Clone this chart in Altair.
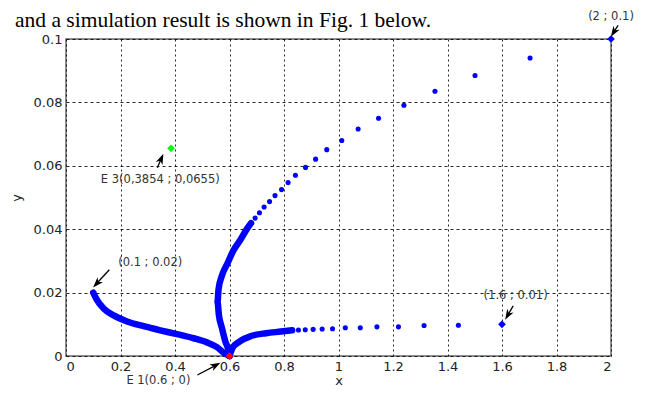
import math
import altair as alt
import pandas as pd

# ---------------- data ----------------
# trajectory starting at (2 ; 0.1): sparse dots, then dense (thick) part
t1_dots_x = [1.703, 1.501, 1.354, 1.240, 1.147, 1.072, 1.012, 0.957, 0.916, 0.879,
             0.842, 0.815, 0.791, 0.767, 0.747, 0.727, 0.710, 0.694, 0.679]
t1_dots_y = [0.0940, 0.0885, 0.0835, 0.0791, 0.0750, 0.0716, 0.0680, 0.0651, 0.0621, 0.0595,
             0.0570, 0.0547, 0.0525, 0.0506, 0.0487, 0.0470, 0.0452, 0.0435, 0.0419]
t1_line_x = [0.679, 0.664, 0.639, 0.615, 0.593, 0.572, 0.560, 0.556, 0.561, 0.572, 0.584, 0.599, 0.6]
t1_line_y = [0.0419, 0.0401, 0.0365, 0.0334, 0.0293, 0.0253, 0.0212, 0.0171, 0.0130, 0.0089, 0.0048, 0.0008, 0.0]

# trajectory starting at (0.1 ; 0.02): dense thick curve
t2_line_x = [0.1, 0.114, 0.138, 0.175, 0.224, 0.285, 0.346, 0.407, 0.468, 0.517, 0.554, 0.584, 0.6]
t2_line_y = [0.02, 0.0176, 0.0150, 0.0128, 0.0109, 0.0094, 0.0081, 0.0069, 0.0056, 0.0043, 0.0028, 0.0007, 0.0]

# trajectory starting at (1.6 ; 0.01)
t3_dots_x = [1.440, 1.314, 1.220, 1.141, 1.080, 1.025, 0.978, 0.940, 0.907, 0.878, 0.853, 0.830]
t3_dots_y = [0.0097, 0.0096, 0.0092, 0.0092, 0.0089, 0.0089, 0.0086, 0.0085, 0.0084, 0.0083, 0.0082, 0.0081]
t3_line_x = [0.830, 0.789, 0.734, 0.679, 0.638, 0.610, 0.6]
t3_line_y = [0.0081, 0.0077, 0.0072, 0.0063, 0.0046, 0.0024, 0.0]

# special points
mk_x = [2.0, 1.6, 0.6, 0.3854]
mk_y = [0.1, 0.01, 0.0, 0.0655]
mk_c = ["#0000ff", "#0000ff", "#ff0000", "#00ff00"]

# annotations
ann_text = ["(2 ; 0.1)", "E 3(0,3854 ; 0,0655)", "(0.1 ; 0.02)", "(1.6 ; 0.01)", "E 1(0.6 ; 0)"]
ann_x = [2.0, 0.346, 0.309, 1.650, 0.339]
ann_y = [0.1068, 0.0554, 0.0293, 0.0189, -0.0080]
arr_tail_x = [2.026, 0.335, 0.159, 1.641, 0.482]
arr_tail_y = [0.1043, 0.0594, 0.0272, 0.0158, -0.0060]
arr_head_x = [2.0, 0.357, 0.1, 1.612, 0.566]
arr_head_y = [0.1008, 0.0637, 0.0217, 0.0115, -0.0022]

title_text = ["and a simulation result is shown in Fig. 1 below."]
x_ticks = [0, 0.2, 0.4, 0.6, 0.8, 1, 1.2, 1.4, 1.6, 1.8, 2]
y_ticks = [0, 0.01, 0.02, 0.03, 0.04, 0.05, 0.06, 0.07, 0.08, 0.09, 0.1]

# ---------------- layout ----------------
PAD_L, PAD_T, PAD_R, PAD_B = 58, 31, 29, 34
W, H = 545, 317
sx = W / 2.0
sy = H / 0.1

dots = pd.DataFrame({"x": t1_dots_x + t3_dots_x, "y": t1_dots_y + t3_dots_y})
lines = pd.DataFrame({
    "x": t1_line_x + t2_line_x + t3_line_x,
    "y": t1_line_y + t2_line_y + t3_line_y,
    "traj": ["t1"] * len(t1_line_x) + ["t2"] * len(t2_line_x) + ["t3"] * len(t3_line_x),
    "o": list(range(len(t1_line_x))) + list(range(len(t2_line_x))) + list(range(len(t3_line_x))),
})
marks = pd.DataFrame({"x": mk_x, "y": mk_y, "c": mk_c})
ann = pd.DataFrame({"t": ann_text, "x": ann_x, "y": ann_y})
title_df = pd.DataFrame({"t": title_text})

arr_rows, head_rows = [], []
for i in range(len(arr_tail_x)):
    tx, ty, hx, hy = arr_tail_x[i], arr_tail_y[i], arr_head_x[i], arr_head_y[i]
    dxp = (hx - tx) * sx
    dyp = -(hy - ty) * sy
    L = math.hypot(dxp, dyp)
    ux, uy = dxp / L, dyp / L
    ang = math.degrees(math.atan2(dxp, -dyp)) % 360
    back = 5.0
    cx = hx - ux * back / sx
    cy = hy + uy * back / sy
    arr_rows.append({"id": i, "o": 0, "x": tx, "y": ty})
    arr_rows.append({"id": i, "o": 1, "x": cx, "y": cy})
    head_rows.append({"x": cx, "y": cy, "a": ang})
arrows = pd.DataFrame(arr_rows)
heads = pd.DataFrame(head_rows)

ARROW_PATH = "M0,-1L0.7,1L0,0.45L-0.7,1Z"

xs = alt.Scale(domain=[0, 2], nice=False)
ys = alt.Scale(domain=[0, 0.1], nice=False)
X = alt.X("x:Q", scale=xs, title="x",
          axis=alt.Axis(values=x_ticks, format="~g", gridDash=[2, 3], labelPadding=4, titlePadding=1))
Y = alt.Y("y:Q", scale=ys, title="y",
          axis=alt.Axis(values=y_ticks, format="~g", gridDash=[3, 3], labelPadding=4, titlePadding=10))

base_line = alt.Chart(lines).mark_line(color="#0000ff", strokeWidth=6.5, strokeCap="round",
                                       strokeJoin="round", interpolate="monotone").encode(
    x=X, y=Y, detail="traj:N", order="o:Q")
base_dots = alt.Chart(dots).mark_point(filled=True, color="#0000ff", size=26, opacity=1,
                                       shape="circle").encode(x="x:Q", y="y:Q")
base_marks = alt.Chart(marks).mark_point(filled=True, shape="diamond", size=60, opacity=1).encode(
    x="x:Q", y="y:Q", color=alt.Color("c:N", scale=None))
arrow_lines = alt.Chart(arrows).mark_line(color="black", strokeWidth=1.3).encode(
    x="x:Q", y="y:Q", detail="id:N", order="o:Q")
arrow_heads = alt.Chart(heads).mark_point(filled=True, shape=ARROW_PATH, size=110, color="black",
                                          opacity=1, strokeWidth=0).encode(
    x="x:Q", y="y:Q", angle=alt.Angle("a:Q", scale=None))
texts = alt.Chart(ann).mark_text(font="DejaVu Sans", fontSize=11.5, color="#333333").encode(
    x="x:Q", y="y:Q", text="t:N")
title_mark = alt.Chart(title_df).mark_text(font="Liberation Serif", fontSize=21.5, color="black",
                                           align="left", baseline="alphabetic").encode(
    x=alt.value(15 - 8 - PAD_L), y=alt.value(27 - 8 - PAD_T), text="t:N")

chart = alt.layer(base_line, base_dots, base_marks, arrow_lines, arrow_heads, texts,
                  title_mark).properties(
    width=W, height=H,
    autosize=alt.AutoSizeParams(type="none"),
    padding={"left": PAD_L, "top": PAD_T, "right": PAD_R, "bottom": PAD_B},
).configure_view(stroke="#666666", strokeWidth=1.5).configure_axis(
    labelFont="DejaVu Sans", labelFontSize=13, labelColor="#222222",
    titleFont="DejaVu Sans", titleFontSize=13, titleFontWeight="normal", titleColor="#222222",
    grid=True, gridColor="black", gridOpacity=0.85, gridWidth=1,
    domain=False, ticks=False,
)

chart.save("out.html", embed_options={"renderer": "svg", "actions": False})
